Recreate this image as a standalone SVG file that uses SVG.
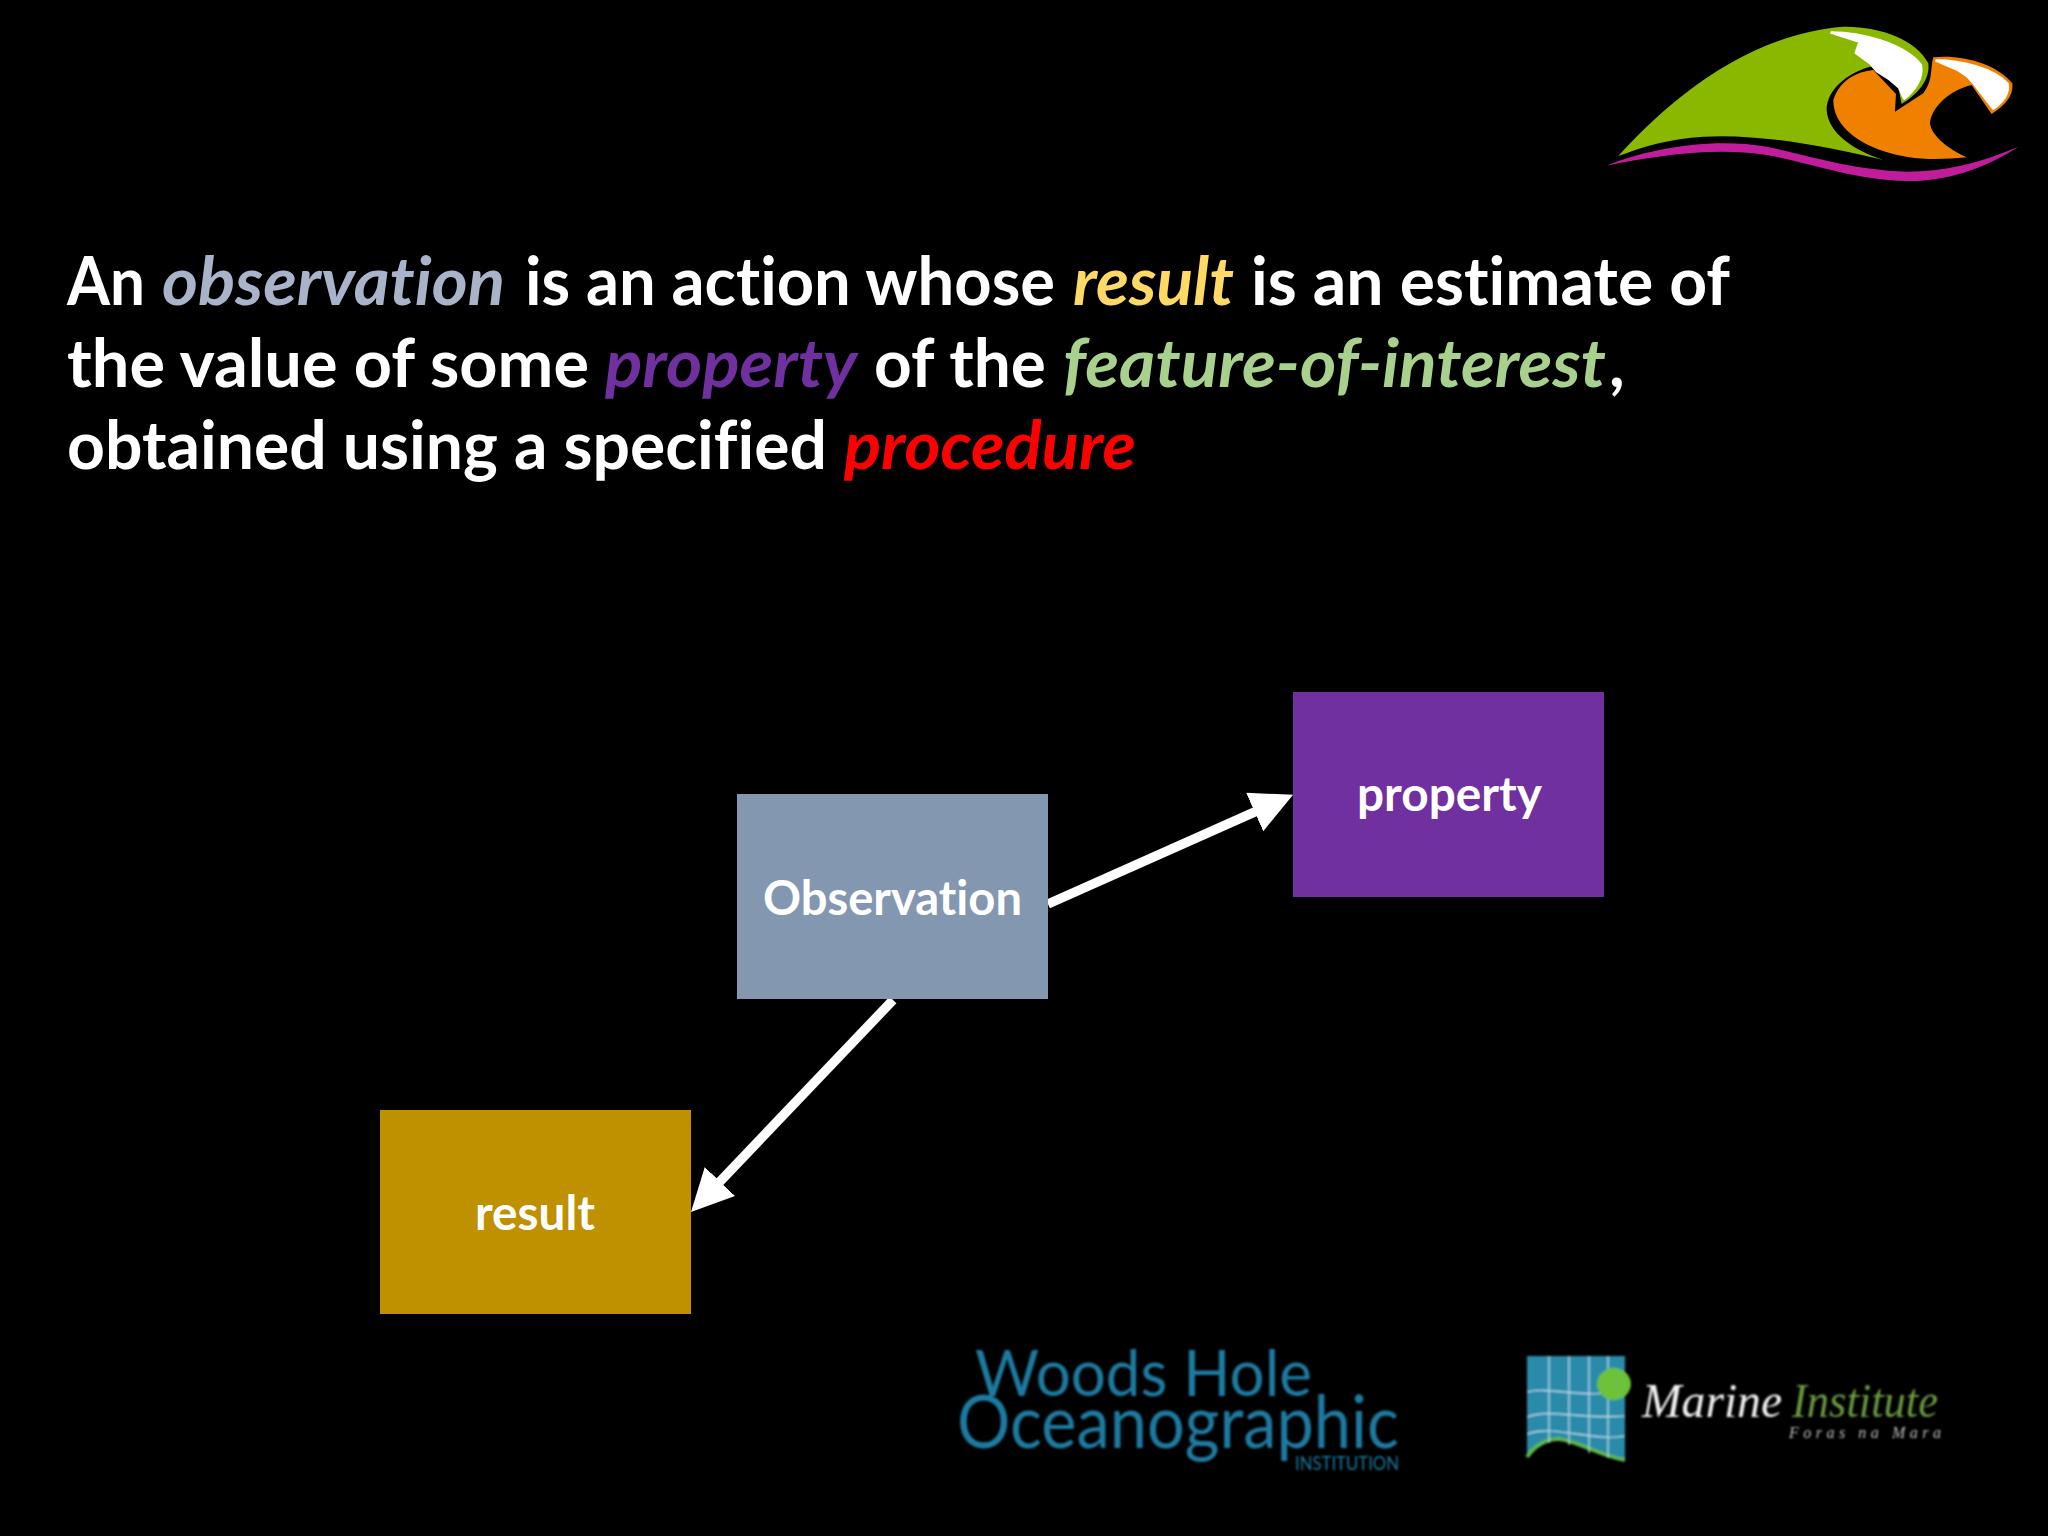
<svg xmlns="http://www.w3.org/2000/svg" width="2048" height="1536" viewBox="0 0 2048 1536">
<style>
text{font-variant-ligatures:none}
.h{font-family:"Lato","Liberation Sans",sans-serif;font-size:67px;font-weight:700;fill:#fff}
.i{font-style:italic}
.n{font-family:"Lato","Liberation Sans",sans-serif;font-size:48px;font-weight:700;fill:#fff}
.w{font-family:"Lato","Liberation Sans",sans-serif;font-weight:400;fill:#1f7aa0}
.m{font-family:"Liberation Serif",serif;font-style:italic}
.foam{fill:#fff;stroke:#fff;stroke-width:9;stroke-linejoin:round}
</style>
<defs>
<marker id="ah" markerUnits="userSpaceOnUse" markerWidth="46" markerHeight="46" refX="22" refY="21" orient="auto"><path d="M0,0L42,21L0,42Z" fill="#fff"/></marker>
<filter id="soft" x="-5%" y="-5%" width="110%" height="110%"><feGaussianBlur stdDeviation="0.9"/></filter>
</defs>
<rect width="2048" height="1536" fill="#000"/>
<g id="logo-wave" transform="translate(1560,0) scale(.3333)" filter="url(#soft)">
<path fill="#8ab800" d="M175,468C300,330 540,105 850,80C960,78 1070,120 1105,190C1112,240 1070,285 1025,312L1015,262C1000,240 960,200 930,200C860,220 800,270 800,330C805,400 880,450 970,480C800,440 600,400 430,410C330,415 250,440 175,468Z"/>
<path class="foam" d="M815,98C900,98 1030,130 1082,195C1090,235 1062,272 1033,295L1018,262L990,238L950,212L930,188L888,158L900,125Z"/>
<path fill="#f08000" d="M820,300C840,240 890,215 940,210L1008,282L1005,335L1090,280C1120,240 1110,210 1120,172C1200,162 1310,190 1357,250C1362,290 1330,320 1295,342L1235,255C1170,270 1115,320 1110,370C1115,410 1170,450 1220,472C1130,480 1050,482 960,450C880,420 820,370 820,300Z"/>
<path class="foam" d="M1130,182C1200,182 1300,205 1342,252C1348,282 1328,305 1300,325L1242,250L1222,228L1192,208Z"/>
<path fill="#c01f9b" d="M140,497C250,450 450,410 620,440C760,470 880,510 1040,515C1150,515 1260,490 1375,440C1300,490 1180,545 1040,543C880,540 760,490 620,465C450,440 280,470 140,497Z"/>
</g>
<g id="heading">
<text class="h" y="305"><tspan x="67" textLength="78" lengthAdjust="spacingAndGlyphs">An</tspan><tspan x="162" class="i" style="fill:#a9b4cb" textLength="343" lengthAdjust="spacingAndGlyphs">observation</tspan><tspan x="525" textLength="530" lengthAdjust="spacingAndGlyphs">is an action whose</tspan><tspan x="1073" class="i" style="fill:#ffd966" textLength="161" lengthAdjust="spacingAndGlyphs">result</tspan><tspan x="1251" textLength="479" lengthAdjust="spacingAndGlyphs">is an estimate of</tspan></text>
<text class="h" y="387"><tspan x="67" textLength="522" lengthAdjust="spacingAndGlyphs">the value of some</tspan><tspan x="605" class="i" style="fill:#7030a0" textLength="252" lengthAdjust="spacingAndGlyphs">property</tspan><tspan x="874" textLength="172" lengthAdjust="spacingAndGlyphs">of the</tspan><tspan x="1063" class="i" style="fill:#a9d18e" textLength="543" lengthAdjust="spacingAndGlyphs">feature-of-interest</tspan><tspan x="1609">,</tspan></text>
<text class="h" y="469"><tspan x="67" textLength="760" lengthAdjust="spacingAndGlyphs">obtained using a specified</tspan><tspan x="844" class="i" style="fill:#ff0000" textLength="292" lengthAdjust="spacingAndGlyphs">procedure</tspan></text>
</g>
<g id="connectors" stroke="#fff" stroke-width="9.5" fill="none">
<line x1="1048" y1="904" x2="1274.8" y2="803" marker-end="url(#ah)"/>
<line x1="893" y1="1000" x2="704.8" y2="1197.5" marker-end="url(#ah)"/>
</g>
<g id="observation"><rect x="737" y="794" width="311" height="205" fill="#8497b0"/><text class="n" x="763" y="915" textLength="259" lengthAdjust="spacingAndGlyphs">Observation</text></g>
<g id="property"><rect x="1293" y="692" width="311" height="205" fill="#7030a0"/><text class="n" x="1357" y="811" textLength="185" lengthAdjust="spacingAndGlyphs">property</text></g>
<g id="result"><rect x="380" y="1110" width="311" height="204" fill="#bf9000"/><text class="n" x="475" y="1230" textLength="120" lengthAdjust="spacingAndGlyphs">result</text></g>
<g id="logo-whoi" filter="url(#soft)">
<text class="w" x="975" y="1396" font-size="64" textLength="337" lengthAdjust="spacingAndGlyphs">Woods Hole</text>
<text class="w" x="957" y="1448" font-size="74" textLength="442" lengthAdjust="spacingAndGlyphs">Oceanographic</text>
<text class="w" x="1295" y="1470" font-size="20" textLength="104" lengthAdjust="spacingAndGlyphs">INSTITUTION</text>
</g>
<g id="logo-marine" filter="url(#soft)">
<path fill="#2a8aaa" d="M1527,1356H1625V1460C1600,1455 1580,1440 1560,1437C1548,1436 1535,1445 1527,1455Z"/>
<path fill="none" stroke="#5cb84a" stroke-width="4" d="M1527,1457C1535,1445 1548,1438 1560,1439C1580,1442 1600,1456 1625,1460"/>
<g fill="none" stroke="#bfe3ee" stroke-width="1.2">
<path d="M1549,1356V1443M1569,1356V1445M1589,1356V1453M1608,1356V1458"/>
<path d="M1527,1392C1550,1386 1570,1398 1625,1392M1527,1417C1550,1408 1580,1420 1625,1416M1527,1434C1555,1424 1590,1442 1625,1436"/>
</g>
<ellipse cx="1614" cy="1384" rx="17" ry="16" fill="#6cc23a"/>
<text class="m" x="1642" y="1417" font-size="48" fill="#f2f2f2" textLength="140" lengthAdjust="spacingAndGlyphs">Marine</text>
<text class="m" x="1792" y="1417" font-size="48" fill="#6a9a40" textLength="146" lengthAdjust="spacingAndGlyphs">Institute</text>
<text class="m" x="1789" y="1438" font-size="16" fill="#c0c0c0" textLength="152">Foras na Mara</text>
</g>
</svg>
